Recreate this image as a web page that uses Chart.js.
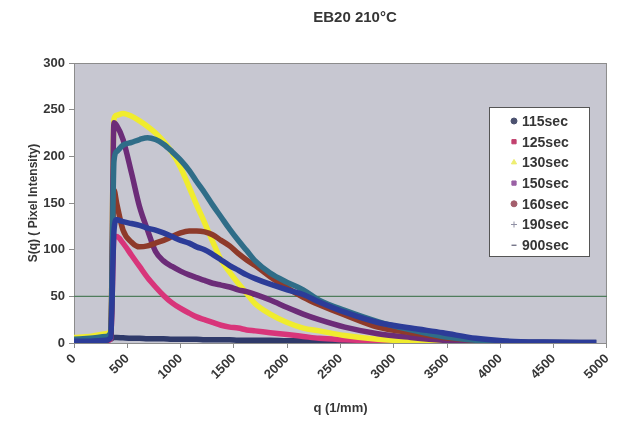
<!DOCTYPE html>
<html>
<head>
<meta charset="utf-8">
<script src="https://cdn.jsdelivr.net/npm/chart.js@4.4.0/dist/chart.umd.min.js"></script>
<style>
  html, body { margin: 0; padding: 0; background: #fff; }
</style>
</head>
<body>
<canvas id="grafico" width="621" height="423"></canvas>
<script>
// q (1/mm) onde os valores foram lidos
const qValues = [0, 150, 300, 345, 375, 400, 460, 540, 615, 690, 765, 840, 920, 1000, 1080, 1150, 1225, 1300, 1380, 1460, 1540, 1620, 1700, 1840, 2000, 2150, 2300, 2540, 2850, 3160, 3460, 3770, 4080, 4400, 4900];

const s115 = [2, 2, 3, 4, 6, 6, 5.5, 5, 5, 4.5, 4.5, 4.5, 4, 4, 4, 4, 3.5, 3.5, 3.5, 3.5, 3, 3, 3, 3, 2.5, 2.5, 2.5, 2, 2, 1.5, 1.5, 1, 1, 0.7, 0.5];
const s125 = [1, 1, 2, 5, 112, 114, 107, 94, 82, 70, 60, 51, 43, 37, 32, 28, 25, 22, 19, 17, 16, 14, 13, 11, 9, 7, 5, 3.5, 2, 1, 0.5, 0.3, null, null, null];
const s130 = [6, 7, 10, 14, 240, 244, 246, 243, 238, 232, 225, 216, 204, 188, 167, 148, 129, 109, 89, 76, 64, 53, 42, 31, 22, 16, 13, 8, 4, 2, 1, 0.5, null, null, null];
const s150 = [2, 2, 3, 8, 236, 233, 218, 182, 146, 121, 98, 88, 82, 77, 73, 70, 67, 64, 62, 60, 57, 55, 52, 46, 38, 31, 25, 17, 10, 6, 3, 1.5, 0.8, null, null];
const s160 = [2, 2, 3, 8, 164, 150, 121, 108, 103, 104, 107, 110, 114, 118, 120, 120, 119, 116, 110, 104, 96, 89, 83, 71, 59, 49, 41, 30, 17, 11, 6, 3, 1, null, null];
const s190 = [4, 5, 7, 12, 195, 205, 212, 215, 218, 220, 218, 213, 205, 196, 185, 173, 161, 148, 135, 122, 110, 99, 88, 75, 65, 57, 46, 35, 23, 14, 7, 3, 1.5, null, null];
const s900 = [2, 2, 3, 6, 120, 132, 130, 128, 126, 123, 121, 118, 114, 110, 107, 103, 100, 95, 89, 83, 78, 73, 69, 63, 57, 52, 44, 33, 22, 16, 11, 5, 2, 1, 0.5];

const rotulos = ["115sec", "125sec", "130sec", "150sec", "160sec", "190sec", "900sec"];
const series = [s115, s125, s130, s150, s160, s190, s900];
const cores = ["#2f3a6a", "#d8357a", "#f0ec2e", "#6c2c78", "#8e3a2a", "#2f6d88", "#2c3c98"];
const coresLegenda = ["#4c5270", "#c2406e", "#eeee70", "#9a60a4", "#a45e6c", "#9090a4", "#3c3c58"];
const marcadores = ["circle", "rect", "triangle", "rect", "circle", "cross", "line"];

const limiar = 50;
const xMin = 0, xMax = 5000;

const fonte = "'Liberation Sans', Arial, sans-serif";
const corTexto = "#363636";

function pares(vals) {
  const out = [];
  vals.forEach((v, i) => {
    if (v !== null) out.push({ x: qValues[i], y: v });
  });
  return out;
}

const datasets = series.map((s, i) => ({
  label: rotulos[i],
  data: pares(s),
  showLine: true,
  borderColor: cores[i],
  backgroundColor: cores[i],
  borderWidth: 5.5,
  pointRadius: 0,
  cubicInterpolationMode: "monotone",
  pointStyle: marcadores[i],
  order: 10 - i,
}));

// linha verde em S = 50
datasets.push({
  label: "limiar",
  data: [{ x: xMin, y: limiar }, { x: xMax, y: limiar }],
  showLine: true,
  borderColor: "#4f7d5c",
  borderWidth: 1.2,
  pointRadius: 0,
  order: 20,
});

// fundo da área do gráfico
const fundo = {
  id: "fundo",
  beforeDatasetsDraw(chart) {
    const { ctx, chartArea: a } = chart;
    ctx.save();
    ctx.fillStyle = "#c7c7d1";
    ctx.fillRect(a.left, a.top, a.right - a.left, a.bottom - a.top);
    ctx.strokeStyle = "#8c8c8c";
    ctx.lineWidth = 1;
    ctx.strokeRect(a.left + 0.5, a.top + 0.5, a.right - a.left - 1, a.bottom - a.top);
    ctx.restore();
  },
};

// título e legenda desenhados à mão (posição como no original)
const extras = {
  id: "extras",
  afterDraw(chart) {
    const ctx = chart.ctx;
    ctx.save();
    ctx.fillStyle = corTexto;
    ctx.font = "bold 15px " + fonte;
    ctx.textAlign = "center";
    ctx.textBaseline = "middle";
    ctx.fillText("EB20 210°C", 355, 18);

    const bx = 489.5, by = 107.5, bw = 100, bh = 149;
    ctx.fillStyle = "#ffffff";
    ctx.fillRect(bx, by, bw, bh);
    ctx.strokeStyle = "#555";
    ctx.lineWidth = 1;
    ctx.strokeRect(bx, by, bw, bh);

    ctx.font = "bold 14px " + fonte;
    ctx.textAlign = "left";
    rotulos.forEach((r, i) => {
      const y = 121 + i * 20.7;
      ctx.fillStyle = coresLegenda[i];
      ctx.strokeStyle = coresLegenda[i];
      Chart.helpers.drawPoint(ctx, {
        pointStyle: marcadores[i],
        radius: marcadores[i] === "line" ? 2.5 : 3,
        rotation: 0,
        borderWidth: 1.5,
      }, 514, y);
      ctx.fillStyle = corTexto;
      ctx.fillText(r, 522, y + 1);
    });
    ctx.restore();
  },
};

const grafico = new Chart(document.getElementById("grafico").getContext("2d"), {
  type: "scatter",
  data: { datasets },
  plugins: [fundo, extras],
  options: {
    responsive: false,
    animation: false,
    layout: { padding: { top: 63, right: 4, left: 0, bottom: 0 } },
    plugins: {
      legend: { display: false },
      title: { display: false },
      tooltip: { enabled: false },
    },
    scales: {
      x: {
        type: "linear",
        min: xMin,
        max: xMax,
        afterFit: (s) => { s.height = 80; },
        ticks: {
          stepSize: 500,
          minRotation: 45,
          maxRotation: 45,
          padding: 3,
          color: corTexto,
          font: { family: fonte, size: 13, weight: "bold" },
          callback: (v) => String(v),
        },
        grid: { drawOnChartArea: false, tickLength: 5, color: "#8c8c8c" },
        border: { color: "#8c8c8c" },
        title: {
          display: true,
          text: "q (1/mm)",
          color: corTexto,
          font: { family: fonte, size: 13, weight: "bold" },
          padding: { top: 0, bottom: 7 },
        },
      },
      y: {
        min: 0,
        max: 300,
        afterFit: (s) => { s.width = 74; },
        ticks: {
          stepSize: 50,
          padding: 4,
          color: corTexto,
          font: { family: fonte, size: 13, weight: "bold" },
          callback: (v) => String(v),
        },
        grid: { drawOnChartArea: false, tickLength: 5, color: "#8c8c8c" },
        border: { color: "#8c8c8c" },
        title: {
          display: true,
          text: "S(q) ( Pixel Intensity)",
          color: corTexto,
          font: { family: fonte, size: 12, weight: "bold" },
          padding: { top: 26, bottom: 0 },
        },
      },
    },
  },
});
</script>
</body>
</html>
